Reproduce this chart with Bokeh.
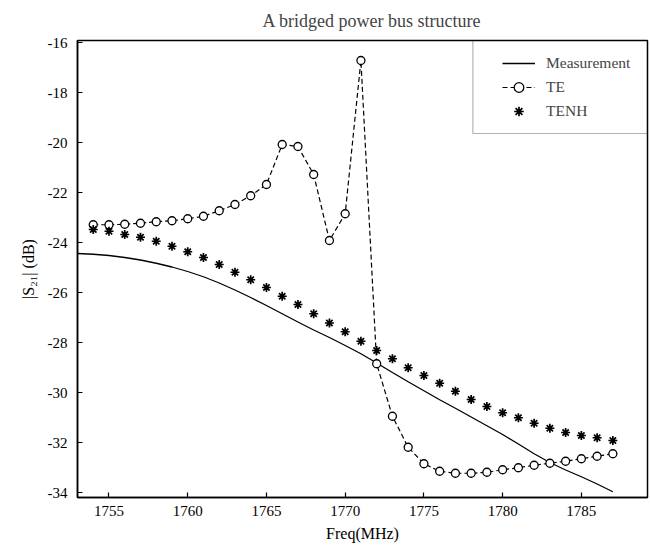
from bokeh.plotting import figure
from bokeh.models import Range1d, FixedTicker, Legend, LegendItem, BoxAnnotation
from bokeh.embed import file_html
from bokeh.resources import INLINE

# ---------------- data ----------------
freq_te = list(range(1754, 1788))
te = [-23.29, -23.29, -23.27, -23.23, -23.17, -23.13, -23.05, -22.95, -22.73, -22.48,
      -22.13, -21.68, -20.08, -20.16, -21.28, -23.92, -22.85, -16.72, -28.85, -30.95,
      -32.19, -32.85, -33.15, -33.23, -33.23, -33.19, -33.09, -33.01, -32.91, -32.83,
      -32.75, -32.65, -32.55, -32.45]

freq_tenh = list(range(1754, 1788))
tenh = [-23.48, -23.55, -23.68, -23.79, -23.95, -24.15, -24.37, -24.60, -24.88, -25.19,
        -25.49, -25.80, -26.15, -26.48, -26.85, -27.22, -27.57, -27.95, -28.32, -28.65,
        -29.01, -29.32, -29.63, -29.95, -30.28, -30.56, -30.81, -31.01, -31.23, -31.43,
        -31.60, -31.72, -31.81, -31.92]

freq_meas = list(range(1753, 1788))
meas = [-24.44, -24.47, -24.52, -24.60, -24.70, -24.83, -24.98, -25.16, -25.37, -25.62,
        -25.90, -26.20, -26.52, -26.85, -27.18, -27.50, -27.80, -28.12, -28.45, -28.82,
        -29.20, -29.57, -29.93, -30.29, -30.63, -30.98, -31.33, -31.68, -32.06, -32.45,
        -32.80, -33.10, -33.37, -33.66, -33.97]

x_ticks = [1755, 1760, 1765, 1770, 1775, 1780, 1785]
y_ticks = [-34, -32, -30, -28, -26, -24, -22, -20, -18, -16]

FONT = "Liberation Serif"

p = figure(width=650, height=548, output_backend="svg", toolbar_location=None,
           x_range=Range1d(1753, 1789.2), y_range=Range1d(-34.2, -15.92),
           min_border_left=77, min_border_right=3, min_border_top=40, min_border_bottom=51,
           title="A bridged power bus structure")
p.title.align = "left"
p.title.offset = 185
p.title.standoff = 16
p.title.vertical_align = "top"
p.title.text_font = FONT
p.title.text_font_size = "18px"
p.title.text_font_style = "normal"
p.grid.visible = False
p.outline_line_color = "black"
p.outline_line_width = 1.5
p.outline_line_alpha = 1
p.background_fill_color = "white"
p.border_fill_color = "white"

def style_axis(ax):
    ax.axis_line_width = 1.5
    ax.axis_line_color = "black"
    ax.major_tick_in = 5
    ax.major_tick_out = 0
    ax.major_tick_line_width = 1.2
    ax.minor_tick_line_color = None
    ax.major_label_text_font = FONT
    ax.major_label_text_font_size = "15px"
    ax.major_label_text_color = "black"
    ax.axis_label_text_font = FONT
    ax.axis_label_text_font_size = "16px"
    ax.axis_label_text_font_style = "normal"
    ax.axis_label_text_color = "black"

xa = p.xaxis[0]
ya = p.yaxis[0]
xa.ticker = FixedTicker(ticks=x_ticks)
ya.ticker = FixedTicker(ticks=y_ticks)
ya.major_label_overrides = {v: str(v) for v in y_ticks}
xa.axis_label = "Freq(MHz)"
ya.axis_label = "|S\u2082\u2081| (dB)"
style_axis(xa)
style_axis(ya)
xa.major_label_standoff = 8
xa.axis_label_standoff = 6
ya.major_label_standoff = 10
ya.axis_label_standoff = 8

r_meas = p.line(freq_meas, meas, line_color="black", line_width=1.3)
r_te_line = p.line(freq_te, te, line_color="black", line_width=1.2, line_dash="5 3")
r_te_pts = p.scatter(freq_te, te, marker="circle", size=8, fill_color="white",
                     line_color="black", line_width=1.3)
r_tenh = p.scatter(freq_tenh, tenh, marker="asterisk", size=9, line_color="black",
                   line_width=1.7)

box = BoxAnnotation(left=1778.11, bottom=-19.64, fill_alpha=0,
                    line_color="black", line_width=1.2)
p.add_layout(box)

legend = Legend(items=[
    LegendItem(label="Measurement", renderers=[r_meas]),
    LegendItem(label="TE", renderers=[r_te_line, r_te_pts]),
    LegendItem(label="TENH", renderers=[r_tenh]),
], location=(414, 363), margin=0, padding=11, spacing=0,
    glyph_width=33, glyph_height=24, label_height=24, label_standoff=11,
    label_text_font=FONT, label_text_font_size="15.5px",
    border_line_alpha=0, background_fill_alpha=0)
p.add_layout(legend)

open("out.html", "w").write(file_html(p, INLINE))
